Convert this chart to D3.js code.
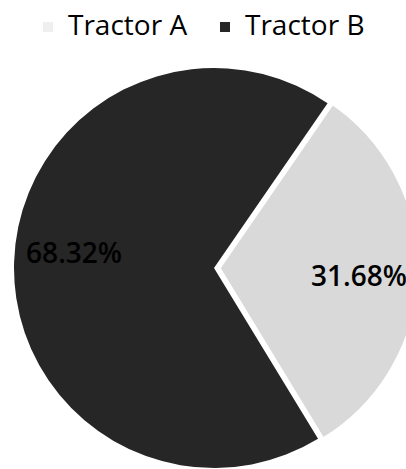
<!DOCTYPE html>
<html>
<head>
<meta charset="utf-8">
<script src="https://cdn.jsdelivr.net/npm/d3@7"></script>
<style>
  body { margin: 0; background: #fff; }
  text { font-family: "Open Sans", sans-serif; }
</style>
</head>
<body>
<div class="chart"></div>
<script>
var svgWidth = 406;
var svgHeight = 469;

// chart data
var categories = ["Tractor A", "Tractor B"];
var shares = [31.68, 68.32];
var labels = ["31.68%", "68.32%"];
var colors = ["#d9d9d9", "#262626"];

var cx = 214;
var cy = 268;
var radius = 200;
var explode = 5;
// small vertical nudges so the labels sit where excel put them
var labelDy = [14, -1];

var svg = d3.select(".chart")
  .append("svg")
  .attr("width", svgWidth)
  .attr("height", svgHeight);

var pieData = d3.pie()
  .sort(null)
  .value(d => d)
  .startAngle(34.6 * Math.PI / 180)
  .endAngle(34.6 * Math.PI / 180 + 2 * Math.PI)(shares);

var arc = d3.arc().innerRadius(0).outerRadius(radius);
var labelArc = d3.arc().innerRadius(radius * 0.7).outerRadius(radius * 0.7);

var pieGroup = svg.append("g")
  .attr("transform", `translate(${cx}, ${cy})`);

// offset for the exploded slice (Tractor A)
function offset(d, i) {
  if (i !== 0) return [0, 0];
  var mid = (d.startAngle + d.endAngle) / 2;
  return [Math.sin(mid) * explode, -Math.cos(mid) * explode];
}

pieGroup.selectAll("path")
  .data(pieData)
  .enter()
  .append("path")
  .attr("transform", (d, i) => `translate(${offset(d, i)})`)
  .attr("d", arc)
  .attr("fill", (d, i) => colors[i])
  .attr("stroke", "#fff")
  .attr("stroke-width", (d, i) => i === 0 ? 3 : 0)
  .attr("stroke-linejoin", "round");

pieGroup.selectAll(".slice-label")
  .data(pieData)
  .enter()
  .append("text")
  .attr("class", "slice-label")
  .attr("x", (d, i) => labelArc.centroid(d)[0] + offset(d, i)[0])
  .attr("y", (d, i) => labelArc.centroid(d)[1] + offset(d, i)[1] + labelDy[i])
  .attr("text-anchor", "middle")
  .attr("font-size", 28)
  .attr("font-weight", 600)
  .attr("fill", "#000")
  .text((d, i) => labels[i]);

// legend
var legendX = [68, 245];
var legendColors = ["#efefef", "#262626"];
var legend = svg.append("g");

legend.selectAll("rect")
  .data(categories)
  .enter()
  .append("rect")
  .attr("x", (d, i) => legendX[i] - 25)
  .attr("y", 22)
  .attr("width", 10)
  .attr("height", 10)
  .attr("fill", (d, i) => legendColors[i]);

legend.selectAll("text")
  .data(categories)
  .enter()
  .append("text")
  .attr("x", (d, i) => legendX[i])
  .attr("y", 35)
  .attr("font-size", 28)
  .attr("fill", "#000")
  .text(d => d);
</script>
</body>
</html>
